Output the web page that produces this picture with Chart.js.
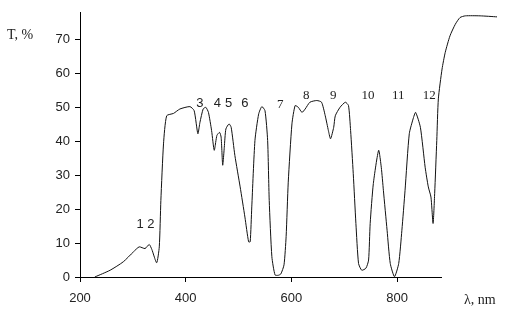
<!DOCTYPE html>
<html>
<head>
<meta charset="utf-8">
<script src="https://cdn.jsdelivr.net/npm/chart.js@4/dist/chart.umd.min.js"></script>
<style>
  html, body { margin: 0; padding: 0; background: #fff; }
  #wrap { width: 508px; height: 316px; }
</style>
</head>
<body>
<div id="wrap"><canvas id="chart" width="508" height="316"></canvas></div>
<script>
// spectrum
const wavelengths = [228, 257, 282, 301, 312, 323, 331, 336, 345, 350, 353, 358, 364, 377, 389, 408,
    416, 423, 427, 433, 438, 443, 449, 454, 459, 464, 467, 470, 473, 476, 482, 486, 493, 503, 512, 519, 522,
    525, 531, 538, 544, 550, 555, 558, 563, 569, 575, 580, 586, 590, 594, 601, 607, 613, 620, 626, 635, 648,
    657, 664, 670, 674, 680, 683, 692, 702, 708, 712, 717, 722, 727, 733, 741, 746, 749, 755, 765, 770, 774,
    781, 787, 795, 803, 809, 815, 823, 831, 835, 844, 853, 859, 864, 868, 871, 875, 878, 885, 891, 900, 910,
    919, 929, 957, 989];
const transmittance = [0, 2, 4.5, 7.4, 8.9, 8.4, 9.6, 8.1, 4.2, 8.9, 22.6, 39.3, 47.6, 48.3, 49.6, 50.3,
    49.1, 42.3, 45.7, 49.6, 50.1, 48.6, 43.2, 37.4, 41.8, 42.7, 41.3, 33, 38.3, 43.7, 45.2, 44.2, 35.9, 26.6, 17.7, 10.4, 10.4,
    20.7, 40.3, 48.1, 50.3, 49.1, 40.3, 22.6, 6, 0.6, 0.5, 0.9, 3.6, 12, 28, 45.2, 50.6, 50.1, 48.6, 49.6, 51.6, 52.1,
    51.6, 47.6, 43.2, 40.8, 44.2, 47.6, 50.1, 51.6, 50.6, 43.2, 30.5, 15.8, 4, 2, 2.6, 5, 15.8, 27.6, 37.4, 32.4, 25.6,
    13.8, 4, 0.1, 4, 13.8, 25.6, 42.3, 47.1, 48.6, 44.2, 32.4, 26.6, 23.6, 15.8, 24.6, 40.3, 52.6, 61.4, 66.3, 71.2, 74.6,
    76.6, 77.1, 77.1, 76.8];

// numbered bands (label text and where it sits, in data units)
const bandNames = ['1 2', '3', '4', '5', '6', '7', '8', '9', '10', '11', '12'];
const bandX = [324, 427, 460, 481, 512, 579, 628, 679, 745, 802, 861];
const bandY = [15.6, 51.3, 51.3, 51.3, 51.3, 51, 53.5, 53.5, 53.5, 53.5, 53.5];

const xTickValues = [200, 400, 600, 800];
const yTickValues = [0, 10, 20, 30, 40, 50, 60, 70];
const xMin = 200, xAxisEnd = 883;
const yMin = 0, yMax = 78;

const points = wavelengths.map((w, i) => ({ x: w, y: transmittance[i] }));

const labelPlugin = {
    id: 'labels',
    afterDatasetsDraw(chart) {
        const ctx = chart.ctx;
        const xs = chart.scales.x, ys = chart.scales.y;
        ctx.save();
        ctx.fillStyle = '#222';
        ctx.textAlign = 'center';
        ctx.textBaseline = 'middle';
        bandNames.forEach((name, i) => {
            ctx.font = i < 5 ? '13px "Liberation Sans"' : '13px "Liberation Serif"';
            ctx.fillText(name, xs.getPixelForValue(bandX[i]), ys.getPixelForValue(bandY[i]));
        });
        // axis titles
        ctx.font = '14px "Liberation Serif"';
        ctx.textAlign = 'left';
        ctx.fillText('T, %', 7, 35);
        ctx.fillText('λ, nm', 464, 300);
        ctx.restore();
    }
};

new Chart(document.getElementById('chart'), {
    type: 'line',
    data: {
        datasets: [{
            data: points,
            borderColor: '#111',
            borderWidth: 1,
            pointRadius: 0,
            tension: 0.2,
            fill: false,
            clip: false
        }]
    },
    options: {
        responsive: false,
        animation: false,
        events: [],
        layout: { padding: { top: 12, right: 67, left: 0, bottom: 0 } },
        plugins: { legend: { display: false }, tooltip: { enabled: false } },
        scales: {
            x: {
                type: 'linear',
                min: xMin,
                bounds: 'data',
                afterDataLimits: s => { s.max = xAxisEnd; },
                afterBuildTicks: s => { s.ticks = xTickValues.map(v => ({ value: v })); },
                afterFit: s => { s.height = 39; },
                border: { color: '#000', width: 1 },
                grid: { drawOnChartArea: false, tickLength: 5, color: '#000' },
                ticks: { color: '#222', padding: 9, maxRotation: 0, font: { family: 'Liberation Sans', size: 13 } }
            },
            y: {
                min: yMin,
                max: yMax,
                afterBuildTicks: s => { s.ticks = yTickValues.map(v => ({ value: v })); },
                afterFit: s => { s.width = 80; },
                border: { color: '#000', width: 1 },
                grid: { drawOnChartArea: false, tickLength: 5, color: '#000' },
                ticks: { color: '#222', padding: 5, font: { family: 'Liberation Sans', size: 13 } }
            }
        }
    },
    plugins: [labelPlugin]
});
</script>
</body>
</html>
